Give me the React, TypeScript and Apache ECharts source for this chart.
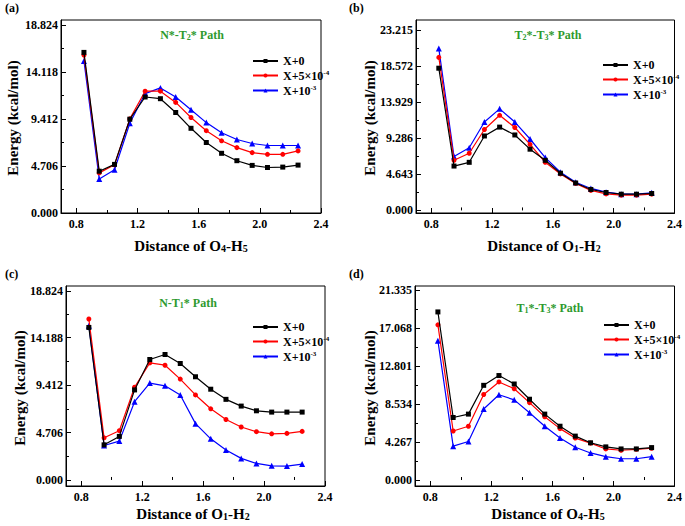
import React, { useEffect, useRef } from 'react';
import * as echarts from 'echarts';

const xValues = [0.85, 0.95, 1.05, 1.15, 1.25, 1.35, 1.45, 1.55, 1.65, 1.75, 1.85, 1.95, 2.05, 2.15, 2.25];
const xMajorTicks = [0.8, 1.2, 1.6, 2.0, 2.4];
const xMinorTicks = [1.0, 1.4, 1.8, 2.2];
const seriesNames = ['X+0', 'X+5e-4', 'X+1e-3'];

const aTicks = [0, 4.706, 9.412, 14.118, 18.824];
const aBlack = [16.06, 4.18, 4.86, 9.38, 11.6, 11.43, 10.05, 8.47, 7.05, 5.97, 5.23, 4.76, 4.55, 4.59, 4.79];
const aRed = [15.79, 4.01, 4.82, 9.41, 12.18, 12.18, 11.06, 9.55, 8.23, 7.22, 6.54, 6.04, 5.87, 5.87, 6.21];
const aBlue = [15.21, 3.41, 4.32, 8.97, 11.94, 12.51, 11.6, 10.32, 9.04, 8.03, 7.35, 6.95, 6.75, 6.75, 6.75];

const bTicks = [0, 4.643, 9.286, 13.929, 18.572, 23.215];
const bBlack = [18.3, 5.71, 6.19, 9.58, 10.72, 9.71, 7.88, 6.45, 4.79, 3.53, 2.7, 2.31, 2.09, 2.09, 2.18];
const bRed = [19.69, 6.45, 7.36, 10.41, 12.24, 10.67, 8.49, 6.19, 4.7, 3.48, 2.57, 2.13, 1.96, 1.96, 2.09];
const bBlue = [20.82, 6.93, 8.06, 11.37, 13.07, 11.37, 9.19, 6.8, 4.92, 3.62, 2.83, 2.35, 2.09, 2.09, 2.27];

const cTicks = [0, 4.706, 9.412, 14.188, 18.824];
const cBlack = [15.19, 3.5, 4.34, 8.97, 12.0, 12.5, 11.6, 10.28, 9.04, 8.03, 7.36, 6.89, 6.76, 6.76, 6.76];
const cRed = [16.03, 4.2, 4.91, 9.24, 11.66, 11.43, 10.05, 8.47, 7.09, 6.02, 5.28, 4.81, 4.6, 4.64, 4.84];
const cBlue = [15.36, 3.43, 3.87, 7.8, 9.65, 9.38, 8.47, 5.61, 4.1, 2.99, 2.15, 1.65, 1.41, 1.38, 1.58];

const dTicks = [0, 4.267, 8.534, 12.801, 17.068, 21.335];
const dBlack = [18.87, 7.02, 7.4, 10.63, 11.73, 10.78, 9.07, 7.4, 6.04, 4.93, 4.18, 3.72, 3.49, 3.49, 3.64];
const dRed = [17.42, 5.5, 6.04, 9.6, 11.01, 10.25, 8.69, 7.1, 5.77, 4.71, 4.14, 3.49, 3.34, 3.45, 3.57];
const dBlue = [15.64, 3.8, 4.33, 7.97, 9.57, 9.0, 7.55, 6.04, 4.71, 3.68, 3.04, 2.62, 2.39, 2.39, 2.62];

const FONT = '"Liberation Serif", "Times New Roman", serif';
const COLORS = ['#000000', '#ff0000', '#0000ff'];
const SYMBOLS = ['rect', 'circle', 'triangle'];

const panels = [
  {
    grid: { left: 61, top: 20, width: 260, height: 193 },
    yMin: 0, yMax: 19.3, ticks: aTicks, data: [aBlack, aRed, aBlue],
    title: '{g|N*-T}{gs|2}{g|* Path}', titlePos: [192, 35],
    legendPos: [247, 50],
    letter: '(a)', letterPos: [5, 2],
    yTitlePos: [13, 118], xTitle: '{t|Distance of O}{s|4}{t|-H}{s|5}', xTitlePos: [191, 246],
  },
  {
    grid: { left: 416, top: 20, width: 260, height: 193 },
    yMin: -0.33, yMax: 24.5, ticks: bTicks, data: [bBlack, bRed, bBlue],
    title: '{g|T}{gs|2}{g|*-T}{gs|3}{g|* Path}', titlePos: [548, 35],
    legendPos: [597, 54],
    letter: '(b)', letterPos: [349, 2],
    yTitlePos: [370, 118], xTitle: '{t|Distance of O}{s|1}{t|-H}{s|2}', xTitlePos: [544, 246],
  },
  {
    grid: { left: 66, top: 286, width: 259, height: 200 },
    yMin: -0.6, yMax: 19.32, ticks: cTicks, data: [cBlack, cRed, cBlue],
    title: '{g|N-T}{gs|1}{g|* Path}', titlePos: [188, 303],
    legendPos: [247, 316],
    letter: '(c)', letterPos: [5, 268],
    yTitlePos: [20, 388], xTitle: '{t|Distance of O}{s|1}{t|-H}{s|2}', xTitlePos: [193, 514],
  },
  {
    grid: { left: 415, top: 286, width: 261, height: 200 },
    yMin: -0.67, yMax: 21.78, ticks: dTicks, data: [dBlack, dRed, dBlue],
    title: '{g|T}{gs|1}{g|*-T}{gs|3}{g|* Path}', titlePos: [550, 308],
    legendPos: [598, 314],
    letter: '(d)', letterPos: [349, 268],
    yTitlePos: [370, 388], xTitle: '{t|Distance of O}{s|4}{t|-H}{s|5}', xTitlePos: [548, 514],
  },
];

const legendLabel: Record<string, string> = {
  'X+0': '{l|X+0}',
  'X+5e-4': '{l|X+5×10}{sup|-4}',
  'X+1e-3': '{l|X+10}{sup|-3}',
};

function minorOf(ticks: number[]) {
  const out: number[] = [];
  for (let i = 0; i < ticks.length - 1; i++) out.push((ticks[i] + ticks[i + 1]) / 2);
  return out;
}

function buildOption() {
  const grid: any[] = [];
  const xAxis: any[] = [];
  const yAxis: any[] = [];
  const series: any[] = [];
  const legend: any[] = [];
  const graphic: any[] = [];
  const axisLabelStyle = { fontFamily: FONT, fontWeight: 'bold', fontSize: 12, color: '#000' };

  panels.forEach((p, i) => {
    grid.push({ ...p.grid, show: true, borderColor: '#000', borderWidth: 1, containLabel: false });
    xAxis.push({
      type: 'value', gridIndex: i, min: 0.7, max: 2.4,
      axisLine: { show: true, onZero: false, lineStyle: { color: '#000', width: 1 } },
      axisTick: { show: true, inside: true, length: 5, customValues: xMajorTicks, lineStyle: { color: '#000' } },
      axisLabel: { ...axisLabelStyle, margin: 5, customValues: xMajorTicks, formatter: (v: number) => v.toFixed(1) },
      splitLine: { show: false },
    });
    yAxis.push({
      type: 'value', gridIndex: i, min: p.yMin, max: p.yMax,
      axisLine: { show: true, onZero: false, lineStyle: { color: '#000', width: 1 } },
      axisTick: { show: true, inside: true, length: 5, customValues: p.ticks, lineStyle: { color: '#000' } },
      axisLabel: { ...axisLabelStyle, margin: 3, customValues: p.ticks, formatter: (v: number) => v.toFixed(3) },
      splitLine: { show: false },
    });
    p.data.forEach((arr, k) => {
      series.push({
        type: 'line', name: seriesNames[k], xAxisIndex: i, yAxisIndex: i,
        data: xValues.map((x, j) => [x, arr[j]]),
        symbol: SYMBOLS[k], symbolSize: k === 2 ? 6 : 5,
        lineStyle: { color: COLORS[k], width: 1.2 },
        itemStyle: { color: COLORS[k] },
        z: 3 + (2 - k),
      });
    });
    legend.push({
      left: p.legendPos[0], top: p.legendPos[1], orient: 'vertical',
      itemWidth: 25, itemHeight: 5, itemGap: 2,
      data: seriesNames,
      formatter: (n: string) => legendLabel[n],
      textStyle: {
        fontFamily: FONT, fontWeight: 'bold', fontSize: 12, color: '#000',
        rich: {
          l: { fontFamily: FONT, fontWeight: 'bold', fontSize: 12, color: '#000', lineHeight: 13 },
          sup: { fontFamily: FONT, fontWeight: 'bold', fontSize: 7, color: '#000', verticalAlign: 'top', lineHeight: 13, padding: [0, 0, 6, 0] },
        },
      },
    });
    graphic.push({
      type: 'text', x: p.titlePos[0], y: p.titlePos[1],
      style: {
        text: p.title, align: 'center', verticalAlign: 'middle',
        rich: {
          g: { fontFamily: FONT, fontWeight: 'bold', fontSize: 12, fill: '#2e9a2e', lineHeight: 14 },
          gs: { fontFamily: FONT, fontWeight: 'bold', fontSize: 8, fill: '#2e9a2e', lineHeight: 14, padding: [5, 0, 0, 0] },
        },
      },
    });
    graphic.push({
      type: 'text', x: p.letterPos[0], y: p.letterPos[1],
      style: { text: p.letter, fontFamily: FONT, fontWeight: 'bold', fontSize: 12, fill: '#000' },
    });
    graphic.push({
      type: 'text', x: p.yTitlePos[0], y: p.yTitlePos[1], rotation: Math.PI / 2,
      style: {
        text: 'Energy (kcal/mol)', align: 'center', verticalAlign: 'middle',
        fontFamily: FONT, fontWeight: 'bold', fontSize: 15, fill: '#000',
      },
    });
    graphic.push({
      type: 'text', x: p.xTitlePos[0], y: p.xTitlePos[1],
      style: {
        text: p.xTitle, align: 'center', verticalAlign: 'middle',
        rich: {
          t: { fontFamily: FONT, fontWeight: 'bold', fontSize: 15, fill: '#000', lineHeight: 16 },
          s: { fontFamily: FONT, fontWeight: 'bold', fontSize: 10, fill: '#000', lineHeight: 16, padding: [5, 0, 0, 0] },
        },
      },
    });
  });

  // minor-tick axes (no labels, no lines)
  panels.forEach((p, i) => {
    xAxis.push({
      type: 'value', gridIndex: i, min: 0.7, max: 2.4, position: 'bottom',
      axisLine: { show: false },
      axisTick: { show: true, inside: true, length: 3, customValues: xMinorTicks, lineStyle: { color: '#000' } },
      axisLabel: { show: false },
      splitLine: { show: false },
    });
    yAxis.push({
      type: 'value', gridIndex: i, min: p.yMin, max: p.yMax, position: 'left',
      axisLine: { show: false },
      axisTick: { show: true, inside: true, length: 3, customValues: minorOf(p.ticks), lineStyle: { color: '#000' } },
      axisLabel: { show: false },
      splitLine: { show: false },
    });
  });

  return { animation: false, backgroundColor: '#fff', grid, xAxis, yAxis, series, legend, graphic };
}

export default function App() {
  const ref = useRef<HTMLDivElement>(null);
  useEffect(() => {
    if (!ref.current) return;
    const chart = echarts.init(ref.current, null, { renderer: 'svg' });
    chart.setOption(buildOption() as any);
    return () => chart.dispose();
  }, []);
  return <div ref={ref} style={{ width: 685, height: 526, position: 'absolute', left: 0, top: 0 }} />;
}
